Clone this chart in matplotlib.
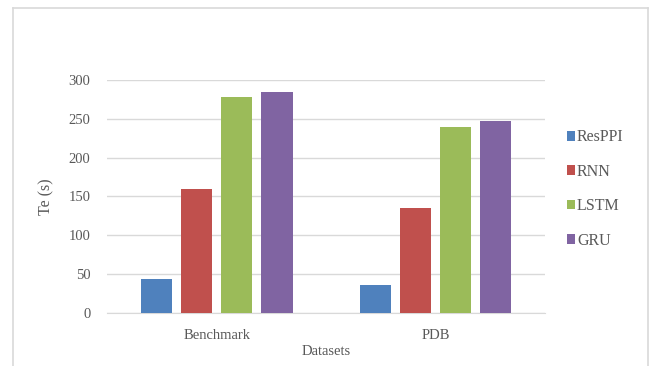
import numpy as np
import matplotlib.pyplot as plt
from matplotlib.lines import Line2D

datasets = ['Benchmark', 'PDB']
models = ['ResPPI', 'RNN', 'LSTM', 'GRU']
te_values = {
    'ResPPI': [44, 36],
    'RNN': [160, 135],
    'LSTM': [278, 239],
    'GRU': [285, 247],
}
colors = ['#4F81BD', '#C0504D', '#9BBB59', '#8064A2']
yticks = [0, 50, 100, 150, 200, 250, 300]

plt.rcParams['font.family'] = ['Liberation Serif', 'DejaVu Serif']
txt = '#595959'

fig = plt.figure(figsize=(6.55, 3.66), dpi=100)
ax = fig.add_axes([0.1638, 0.1456, 0.6682, 0.6358])

x = np.arange(len(datasets))
w = 0.144
step = 0.183
for i, m in enumerate(models):
    ax.bar(x + (i - 1.5) * step, te_values[m], width=w, color=colors[i],
           label=m, zorder=3)

ax.set_xlim(-0.5, 1.5)
ax.set_ylim(0, 300)
ax.set_yticks(yticks)
ax.set_xticks(x)
ax.set_xticklabels(datasets)
ax.grid(axis='y', color='#d9d9d9', linewidth=1, zorder=0)
for s in ['top', 'right', 'left']:
    ax.spines[s].set_visible(False)
ax.spines['bottom'].set_color('#d9d9d9')
ax.tick_params(length=0, colors=txt, labelsize=10.5)
ax.tick_params(axis='y', pad=12)
ax.tick_params(axis='x', pad=12)
ax.set_ylabel('Te (s)', color=txt, fontsize=11.5, labelpad=10)
ax.set_xlabel('Datasets', color=txt, fontsize=10.5, labelpad=2)

leg = ax.legend(loc='upper left', bbox_to_anchor=(1.035, 0.815), frameon=False,
                handlelength=0.55, handleheight=0.55, handletextpad=0.1,
                labelspacing=1.15, fontsize=11.5, borderaxespad=0)
for t in leg.get_texts():
    t.set_color(txt)

# outer chart border
W, H = 655, 366
bx0, bx1, by = 13.3 / W, 647.7 / W, 1 - 8.3 / H
for xs, ys in [([bx0, bx1], [by, by]), ([bx0, bx0], [by, -0.1]), ([bx1, bx1], [by, -0.1])]:
    fig.add_artist(Line2D(xs, ys, color='#d9d9d9', linewidth=1.2, transform=fig.transFigure))

fig.savefig('out.png', dpi=100, facecolor='white')
